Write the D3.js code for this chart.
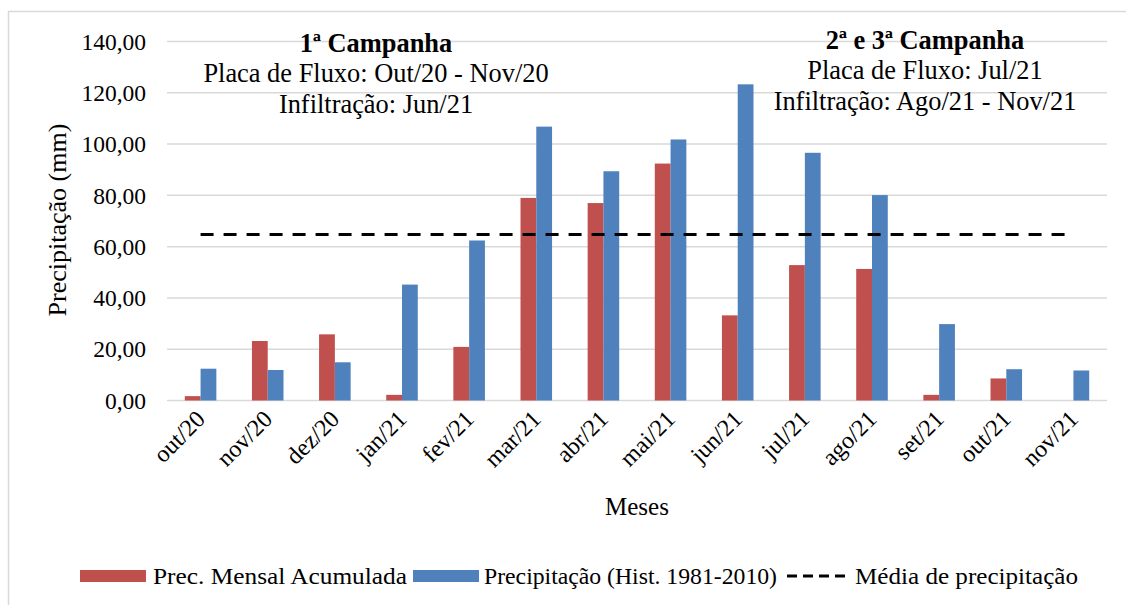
<!DOCTYPE html>
<html>
<head>
<meta charset="utf-8">
<script src="https://cdn.jsdelivr.net/npm/d3@7"></script>
<style>
  html, body { margin: 0; padding: 0; background: #fff; }
  svg { display: block; }
</style>
</head>
<body>
<svg id="chart" width="1126" height="605"></svg>
<script>
// Monthly precipitation data (mm)
const months = ["out/20", "nov/20", "dez/20", "jan/21", "fev/21", "mar/21", "abr/21",
                "mai/21", "jun/21", "jul/21", "ago/21", "set/21", "out/21", "nov/21"];
const precMensal = [1.7, 23.2, 25.8, 2.2, 20.9, 79.0, 77.0, 92.4, 33.2, 52.8, 51.3, 2.2, 8.6, 0];
const precHistorica = [12.4, 11.9, 14.9, 45.2, 62.4, 106.8, 89.4, 101.8, 123.3, 96.6, 80.1, 29.8, 12.2, 11.7];
const mediaPrec = 64.7;
const yTicks = [0, 20, 40, 60, 80, 100, 120, 140];
const seriesNames = ["Prec. Mensal Acumulada", "Precipitação (Hist. 1981-2010)", "Média de precipitação"];

const colors = { mensal: "#C0504D", hist: "#4F81BD" };
const FONT = "'Liberation Serif', 'DejaVu Serif', serif";

const svg = d3.select("#chart").style("font-family", FONT);
const plot = { left: 167, right: 1107, top: 41.5, bottom: 400.5 };

// outer chart frame
svg.append("path")
  .attr("d", "M8.5,605 V11.5 H1130")
  .attr("fill", "none").attr("stroke", "#D9D9D9").attr("stroke-width", 1.5);

const x0 = d3.scaleBand().domain(months).range([plot.left, plot.right])
  .paddingInner(0.53).paddingOuter(0.265);
const x1 = d3.scaleBand().domain(["mensal", "hist"]).range([0, x0.bandwidth()]);
const y = d3.scaleLinear().domain([0, 140]).range([plot.bottom, plot.top]);

// horizontal gridlines
svg.append("g").selectAll("line").data(yTicks).join("line")
  .attr("x1", plot.left).attr("x2", plot.right)
  .attr("y1", d => y(d)).attr("y2", d => y(d))
  .attr("stroke", "#D9D9D9").attr("stroke-width", 1.5);

// y tick labels
const fmt = d => d3.format(".2f")(d).replace(".", ",");
svg.append("g").selectAll("text").data(yTicks).join("text")
  .attr("x", 146).attr("y", d => y(d))
  .attr("dy", "0.35em").attr("text-anchor", "end")
  .style("font-family", FONT)
  .attr("font-size", 23.5).attr("fill", "#000")
  .text(fmt);

// bars
const groups = svg.append("g").selectAll("g").data(months).join("g")
  .attr("transform", d => `translate(${x0(d)},0)`);
groups.append("rect")
  .attr("x", x1("mensal")).attr("width", x1.bandwidth())
  .attr("y", (d, i) => y(precMensal[i]))
  .attr("height", (d, i) => y(0) - y(precMensal[i]))
  .attr("fill", colors.mensal);
groups.append("rect")
  .attr("x", x1("hist")).attr("width", x1.bandwidth())
  .attr("y", (d, i) => y(precHistorica[i]))
  .attr("height", (d, i) => y(0) - y(precHistorica[i]))
  .attr("fill", colors.hist);

// mean precipitation line
const xc = d => x0(d) + x0.bandwidth() / 2;
svg.append("line")
  .attr("x1", xc(months[0])).attr("x2", xc(months[months.length - 1]))
  .attr("y1", y(mediaPrec)).attr("y2", y(mediaPrec))
  .attr("stroke", "#000").attr("stroke-width", 3)
  .attr("stroke-dasharray", "13,10");

// x tick labels (rotated)
svg.append("g").selectAll("text").data(months).join("text")
  .attr("transform", d => `translate(${xc(d) + 6},${plot.bottom + 20}) rotate(-45)`)
  .attr("text-anchor", "end")
  .style("font-family", FONT)
  .attr("font-size", 24).attr("fill", "#000")
  .text(d => d);

// axis titles
svg.append("text")
  .attr("x", (plot.left + plot.right) / 2).attr("y", 515)
  .attr("text-anchor", "middle").attr("font-size", 25)
  .style("font-family", FONT)
  .text("Meses");
svg.append("text")
  .attr("transform", "translate(66,220) rotate(-90)")
  .attr("text-anchor", "middle").attr("font-size", 26)
  .style("font-family", FONT)
  .text("Precipitação (mm)");

// campaign annotations
const notes = [
  { cx: 376, lines: [["1ª Campanha", true, 52], ["Placa de Fluxo: Out/20 - Nov/20", false, 82], ["Infiltração: Jun/21", false, 113]] },
  { cx: 925, lines: [["2ª e 3ª Campanha", true, 49], ["Placa de Fluxo: Jul/21", false, 79], ["Infiltração: Ago/21 - Nov/21", false, 110]] }
];
notes.forEach(n => {
  n.lines.forEach(([t, bold, yy]) => {
    svg.append("text")
      .attr("x", n.cx).attr("y", yy)
      .attr("text-anchor", "middle").attr("font-size", 26.4)
      .style("font-family", FONT)
      .attr("font-weight", bold ? "bold" : "normal")
      .text(t);
  });
});

// legend
const leg = svg.append("g");
const ly = 576;
leg.append("rect").attr("x", 80).attr("y", ly - 6).attr("width", 66).attr("height", 12).attr("fill", colors.mensal);
leg.append("rect").attr("x", 413).attr("y", ly - 6).attr("width", 66).attr("height", 12).attr("fill", colors.hist);
leg.append("line").attr("x1", 787).attr("x2", 848).attr("y1", ly).attr("y2", ly)
  .attr("stroke", "#000").attr("stroke-width", 3).attr("stroke-dasharray", "10,6");
[[153, seriesNames[0], 254], [484, seriesNames[1], 293], [855, seriesNames[2], 223]].forEach(([lx, t, w]) => {
  leg.append("text").attr("x", lx).attr("y", ly).attr("dy", "0.35em")
    .attr("font-size", 24).style("font-family", FONT)
    .attr("textLength", w).attr("lengthAdjust", "spacingAndGlyphs")
    .text(t);
});
</script>
</body>
</html>
